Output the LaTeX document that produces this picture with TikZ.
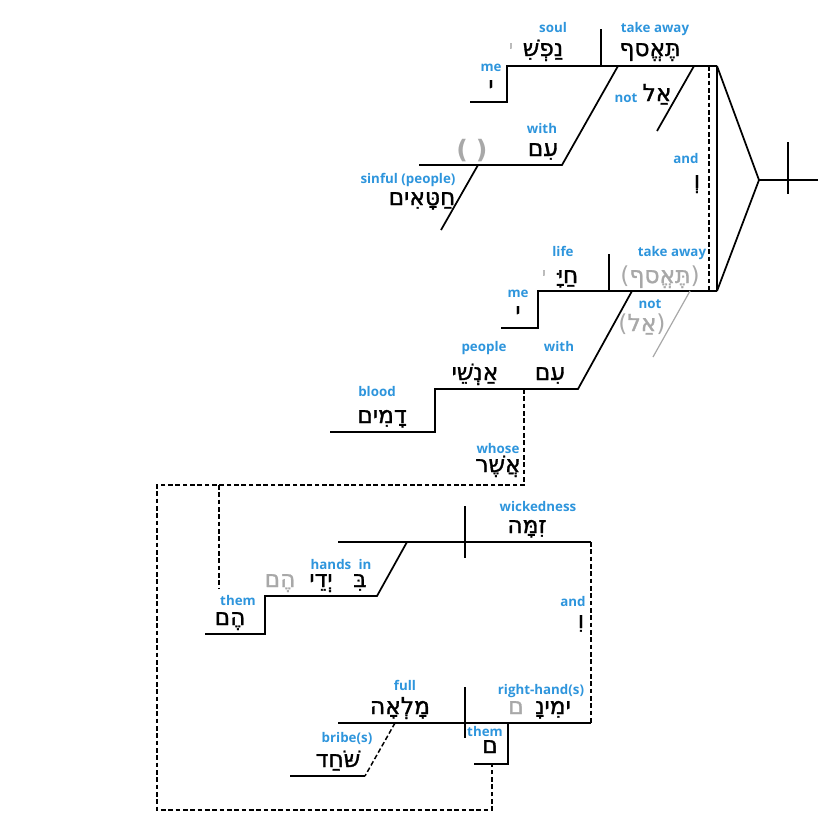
\documentclass[tikz,border=0pt]{standalone}
\usepackage{fontspec}
\newfontfamily\hebfont[Script=Hebrew, FakeBold=1.3]{DejaVu Sans}
\newfontfamily\parfont{DejaVu Sans}
\newfontfamily\lblfont{Open Sans}
\TeXXeTstate=1
\usetikzlibrary{positioning}
\definecolor{lblblue}{HTML}{2E95DC}
\definecolor{ghostgray}{HTML}{A8A8A8}
\newcommand{\hebr}[1]{\beginR #1\endR}
\newcommand{\lpar}{{\parfont(}}
\newcommand{\rpar}{{\parfont)}}

\begin{document}
\begin{tikzpicture}[
    x=0.75pt, y=-0.75pt,
    every node/.style={inner sep=0pt},
    lbl/.style={anchor=base, text=lblblue, font=\lblfont\bfseries\fontsize{10}{12}\selectfont},
    heb/.style={anchor=base, font=\hebfont\fontsize{17.5}{19}\selectfont},
    ghost/.style={heb, text=ghostgray},
    smallghost/.style={ghost, font=\hebfont\fontsize{12}{13}\selectfont},
    bigpar/.style={ghost, font=\parfont\bfseries\fontsize{19}{20}\selectfont},
    ln/.style={line width=1.3pt},
    dashln/.style={line width=1.1pt, dash pattern=on 3.6pt off 1.9pt},
    ghostln/.style={line width=0.9pt, draw=ghostgray}
]
\path[use as bounding box] (0,0) rectangle (825,826);

% --- Clause 1 : soul / take away ---
\coordinate (c1L) at (507,66);
\coordinate (c1R) at (717,66);
\coordinate (d1T) at (601,29);
\coordinate (d1B) at (601,66);
\coordinate (m1a) at (507,102);
\coordinate (m1b) at (470,102);
\coordinate (w1T) at (618,66);
\coordinate (w1B) at (562,165);
\coordinate (w1L) at (419,165);
\coordinate (s1T) at (478,165);
\coordinate (s1B) at (441,230);
\coordinate (n1T) at (694,66);
\coordinate (n1B) at (657,131);

\draw[ln] (m1b) -- (m1a) -- (c1L) -- (c1R);
\draw[ln] (d1T) -- (d1B);
\draw[ln] (w1T) -- (w1B) -- (w1L);
\draw[ln] (s1T) -- (s1B);
\draw[ln] (n1T) -- (n1B);

\node[lbl] (soulL) at (553,32) {soul};
\node[heb] (soul) at (543,56) {\hebr{נַפְשִׁ}};
\node[smallghost] (soulY) at (511,52) {\hebr{י}};
\node[lbl] (takeL) at (655,32) {take away};
\node[heb] (take) at (650,56) {\hebr{תֶּאֱסף}};
\node[lbl] (me1L) at (491,71) {me};
\node[heb] (me1) at (491,93) {\hebr{י}};
\node[lbl] (not1L) at (626,102) {not};
\node[heb] (not1) at (657,101) {\hebr{אַל}};
\node[lbl] (with1L) at (542,133) {with};
\node[heb] (with1) at (543,156) {\hebr{עִם}};
\node[bigpar] (gap1) at (472,158) {(\hspace{6pt})};
\node[lbl] (sinL) at (408,183) {sinful (people)};
\node[heb] (sin) at (422,205) {\hebr{חַטָּאִים}};

% --- Conjunction ---
\coordinate (c2R) at (717,291);
\coordinate (k1T) at (709,66);
\coordinate (k1B) at (709,291);
\coordinate (cj) at (759,180);
\coordinate (cjR) at (818,180);
\coordinate (cjT) at (788,142);
\coordinate (cjB) at (788,194);

\draw[dashln] (k1T) -- (k1B);
\draw[ln] (c1R) -- (c2R);
\draw[ln] (c1R) -- (cj) -- (c2R);
\draw[ln] (cj) -- (cjR);
\draw[ln] (cjT) -- (cjB);

\node[lbl] (andL) at (686,163) {and};
\node[heb] (and1) at (697,188) {\hebr{וְ}};

% --- Clause 2 : life / (take away) ---
\coordinate (c2L) at (538,291);
\coordinate (d2T) at (609,254);
\coordinate (d2B) at (609,291);
\coordinate (m2a) at (538,328);
\coordinate (m2b) at (501,328);
\coordinate (n2T) at (690,291);
\coordinate (n2B) at (653,357);
\coordinate (w2T) at (632,291);
\coordinate (w2B) at (578,389);
\coordinate (w2L) at (435,389);
\coordinate (b2a) at (435,432);
\coordinate (b2b) at (330,432);

\draw[ln] (m2b) -- (m2a) -- (c2L) -- (c2R);
\draw[ln] (d2T) -- (d2B);
\draw[ghostln] (n2T) -- (n2B);
\draw[ln] (w2T) -- (w2B) -- (w2L) -- (b2a) -- (b2b);

\node[lbl] (lifeL) at (563,256) {life};
\node[heb] (life) at (568,283) {\hebr{חַיָּ}};
\node[smallghost] (lifeY) at (544,279) {\hebr{י}};
\node[lbl] (take2L) at (672,256) {take away};
\node[ghost] (take2) at (660,283) {\lpar\hebr{תֶּאֱסף}\rpar};
\node[lbl] (me2L) at (518,297) {me};
\node[heb] (me2) at (518,319) {\hebr{י}};
\node[lbl] (not2L) at (650,308) {not};
\node[ghost] (not2) at (642,331) {\lpar\hebr{אַל}\rpar};
\node[lbl] (peopleL) at (484,351) {people};
\node[heb] (people) at (475,380) {\hebr{אַנְשֵׁי}};
\node[lbl] (with2L) at (559,351) {with};
\node[heb] (with2) at (550,380) {\hebr{עִם}};
\node[lbl] (bloodL) at (377,396) {blood};
\node[heb] (blood) at (382,423) {\hebr{דָמִים}};

% --- Relative clause link ---
\coordinate (r1) at (524,389);
\coordinate (r2) at (524,485);
\coordinate (r3) at (157,485);
\coordinate (r4) at (157,810);
\coordinate (r5) at (492,810);
\coordinate (r6) at (492,764);
\coordinate (r7) at (219,485);
\coordinate (r8) at (219,588);

\draw[dashln] (r1) -- (r2) -- (r3) -- (r4) -- (r5) -- (r6);
\draw[dashln] (r7) -- (r8);

\node[lbl] (whoseL) at (498,453) {whose};
\node[heb] (whose) at (498,472) {\hebr{אֲשֶׁר}};

% --- Clause 3 : wickedness ---
\coordinate (c3L) at (338,542);
\coordinate (c3R) at (591,542);
\coordinate (d3T) at (465,506);
\coordinate (d3B) at (465,558);
\coordinate (i3T) at (407,542);
\coordinate (i3B) at (377,596);
\coordinate (i3L) at (265,596);
\coordinate (t3a) at (265,634);
\coordinate (t3b) at (205,634);

\draw[ln] (c3L) -- (c3R);
\draw[ln] (d3T) -- (d3B);
\draw[ln] (i3T) -- (i3B) -- (i3L) -- (t3a) -- (t3b);

\node[lbl] (wickL) at (538,511) {wickedness};
\node[heb] (wick) at (527,533) {\hebr{זִמָּה}};
\node[lbl] (handsL) at (331,569) {hands};
\node[heb] (hands) at (321,587) {\hebr{יְדֵי}};
\node[lbl] (inL) at (365,569) {in};
\node[heb] (in) at (360,587) {\hebr{בִּ}};
\node[ghost] (handsG) at (280,587) {\hebr{הֶם}};
\node[lbl] (them1L) at (238,605) {them};
\node[heb] (them1) at (230,625) {\hebr{הֶם}};

% --- Clause 4 : right-hand(s) ---
\coordinate (c4L) at (338,723);
\coordinate (c4R) at (591,723);
\coordinate (d4T) at (465,687);
\coordinate (d4B) at (465,738);
\coordinate (t4T) at (508,723);
\coordinate (t4a) at (508,764);
\coordinate (t4b) at (474,764);
\coordinate (b4T) at (395,723);
\coordinate (b4B) at (365,776);
\coordinate (b4L) at (290,776);

\draw[dashln] (c3R) -- (c4R);
\draw[ln] (c4L) -- (c4R);
\draw[ln] (d4T) -- (d4B);
\draw[ln] (t4T) -- (t4a) -- (t4b);
\draw[dashln] (b4T) -- (b4B);
\draw[ln] (b4B) -- (b4L);

\node[lbl] (and2L) at (573,606) {and};
\node[heb] (and2) at (581,628) {\hebr{וִ}};
\node[lbl] (fullL) at (405,690) {full};
\node[heb] (full) at (400,714) {\hebr{מָלְאָה}};
\node[lbl] (handL) at (541,694) {right-hand(s)};
\node[heb] (hand) at (553,714) {\hebr{ימִינָ}};
\node[ghost] (handG) at (516,714) {\hebr{ם}};
\node[lbl] (them2L) at (485,736) {them};
\node[heb] (them2) at (490,753) {\hebr{ם}};
\node[lbl] (bribeL) at (347,742) {bribe(s)};
\node[heb] (bribe) at (338,767) {\hebr{שֹּׁחַד}};
\end{tikzpicture}
\end{document}
